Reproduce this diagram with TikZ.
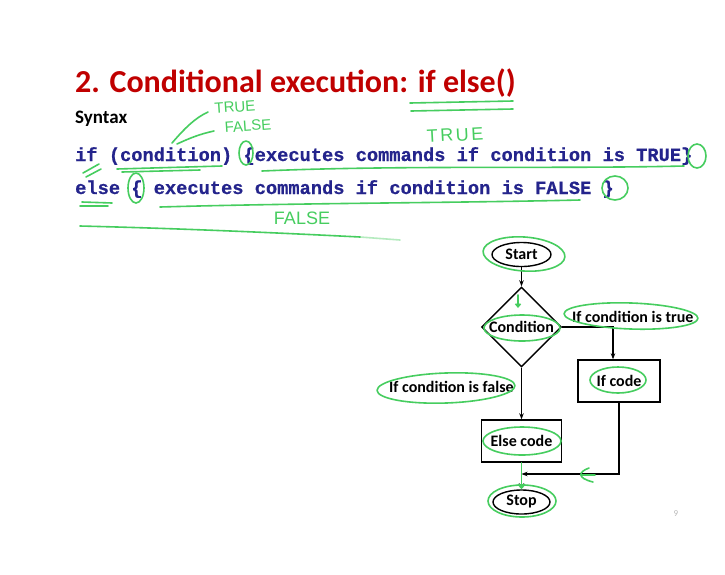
\documentclass[tikz,border=0pt]{standalone}
\usepackage{fontspec}
\setmainfont{Carlito}
\newfontfamily\codefont[FakeBold=0.6]{Liberation Mono}
\newfontfamily\handfont{Liberation Sans}
\usetikzlibrary{shapes.geometric,arrows.meta}
\definecolor{titlered}{RGB}{192,0,0}
\definecolor{codeblue}{RGB}{36,36,140}
\definecolor{penc}{RGB}{70,205,95}
\begin{document}
\begin{tikzpicture}[x=1pt,y=-1pt,
  flow/.style={draw=black, line width=1.4pt},
  lbl/.style={font=\bfseries\fontsize{16}{16}\selectfont, inner sep=0pt},
  arr/.style={line width=1.4pt, -{Stealth[length=6pt,width=4.5pt]}},
  pen/.style={draw=penc, line width=1.6pt, line cap=round, line join=round},
  hand/.style={text=penc, inner sep=0pt},
  code/.style={text=codeblue, font=\codefont\bfseries\fontsize{18.7}{18.7}\selectfont, inner sep=0pt, anchor=base west}]
\useasboundingbox (0,0) rectangle (725,574);
\fill[white] (0,0) rectangle (725,574);

% heading and syntax
\node[anchor=base west, inner sep=0pt, text=titlered, font=\bfseries\fontsize{32}{32}\selectfont] (title) at (75,92) {2. Conditional execution: if else()};
\node[anchor=base west, inner sep=0pt, font=\bfseries\fontsize{19}{19}\selectfont] (syntax) at (75,123) {Syntax};
\node[code] (line1) at (75,161) {if (condition) \{executes commands if condition is TRUE\}};
\node[code] (line2) at (75,194) {else \{ executes commands if condition is FALSE \}};

% flowchart
\node[flow, ellipse, lbl, minimum width=59pt, minimum height=24pt] (start) at (521.5,254.5) {Start};
\node[flow, diamond, lbl, minimum width=80pt, minimum height=80pt] (cond) at (521.5,327) {Condition};
\node[flow, rectangle, lbl, minimum width=82pt, minimum height=42pt] (ifcode) at (619,381) {If code};
\node[flow, rectangle, lbl, minimum width=80pt, minimum height=42pt] (elsecode) at (521.5,441) {Else code};
\node[flow, ellipse, lbl, minimum width=57pt, minimum height=24pt] (stop) at (521.5,502) {Stop};
\node[lbl, anchor=base west] (truelbl) at (572,322) {If condition is true};
\node[lbl, anchor=base west] (falselbl) at (389,392) {If condition is false};
\coordinate (join) at (521.5,474);

\draw[arr] (start) -- (cond);
\draw[arr] (cond.east) -| ([xshift=-6pt]ifcode.north);
\draw[arr] (cond.south) -- (elsecode.north);
\draw[arr] (ifcode.south) |- (join);
\draw[arr] (elsecode.south) -- (stop.north);

\node[text=gray!55, font=\fontsize{9}{9}\selectfont] (pg) at (676,514) {9};

% pen annotations on the syntax
\draw[pen] (410,103) -- (513,101);
\draw[pen] (411,111) -- (513,109);
\node[hand, font=\handfont\fontsize{15}{15}\selectfont, rotate=4] (hw1) at (235,107) {TRUE};
\node[hand, font=\handfont\fontsize{15}{15}\selectfont, rotate=4] (hw2) at (248,126) {FALSE};
\draw[pen] (172,143) .. controls (185,128) and (195,118) .. (208,112);
\draw[pen] (177,144) .. controls (190,138) and (200,134) .. (214,131);
\node[hand, font=\handfont\fontsize{18}{18}\selectfont\addfontfeature{LetterSpace=14}, rotate=3] (hw3) at (455,135) {TRUE};
\node[hand, font=\handfont\fontsize{18}{18}\selectfont] (hw4) at (302,218) {FALSE};

\draw[pen] (83,173) -- (99,164);
\draw[pen] (86,177) -- (101,169);
\draw[pen] (117,169) -- (222,166);
\draw[pen] (122,172) -- (200,170);
\draw[pen] (246,153) ellipse [x radius=7, y radius=12];
\draw[pen] (262,171) .. controls (400,165) and (560,169) .. (684,166);
\draw[pen] (697,156) ellipse [x radius=9, y radius=12];
\draw[pen] (82,202) -- (112,203);
\draw[pen] (80,206) -- (108,206);
\draw[pen] (136,188) ellipse [x radius=8, y radius=15];
\draw[pen] (160,207) .. controls (300,203) and (450,203) .. (580,200);
\draw[pen] (615,188) ellipse [x radius=13, y radius=12];
\draw[pen] (80,226) .. controls (200,229) and (300,234) .. (360,237);
\draw[pen, draw opacity=0.4] (360,237) -- (400,240);

% pen annotations on the flowchart
\draw[pen, rotate around={-4:(524,254)}] (524,254) ellipse [x radius=41, y radius=17];
\draw[pen] (522,328) ellipse [x radius=38, y radius=13];
\draw[pen, rotate around={-2:(631,316)}] (631,316) ellipse [x radius=67, y radius=13];
\draw[pen] (618,380) ellipse [x radius=28, y radius=13];
\draw[pen, rotate around={2:(446,388)}] (446,388) ellipse [x radius=69, y radius=15];
\draw[pen] (522,441) ellipse [x radius=39, y radius=14];
\draw[pen] (522,501) ellipse [x radius=34, y radius=16];
\draw[pen, -{Straight Barb[length=3pt,width=5pt]}] (518,295) -- (518,308);
\draw[pen, -{Straight Barb[length=4pt,width=7pt]}] (elsecode.south) -- (stop.north);
\draw[pen] (589,468) .. controls (578,472) and (577,478) .. (593,482);
\draw[pen] (582,475) -- (595,475);
\end{tikzpicture}
\end{document}
